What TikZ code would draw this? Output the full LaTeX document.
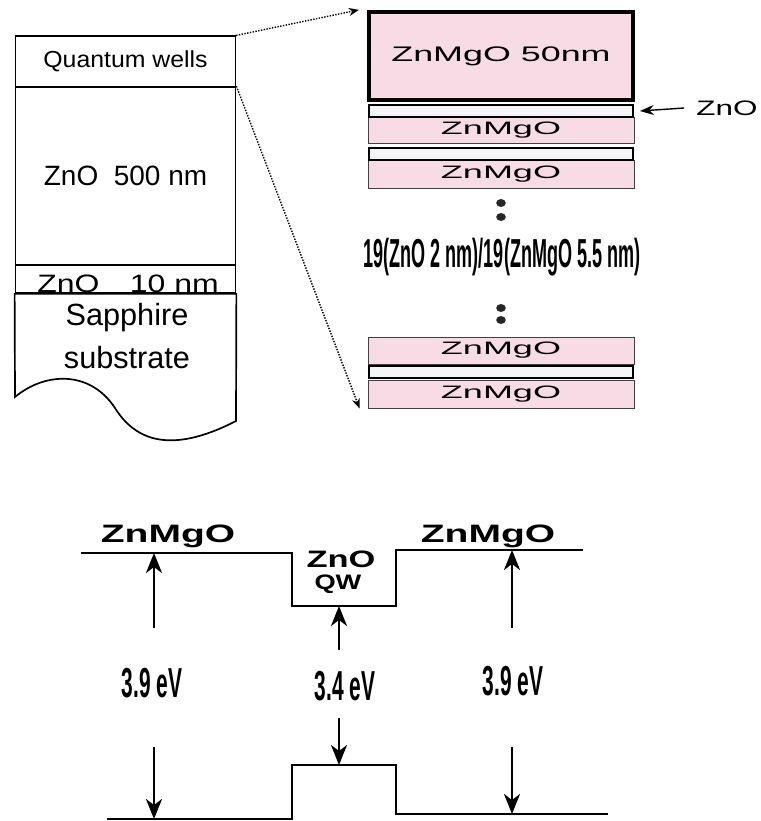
\documentclass[tikz,border=0pt]{standalone}
\usepackage{fontspec}
\setmainfont{Liberation Sans}
\usetikzlibrary{positioning, arrows.meta}

\definecolor{zmopink}{HTML}{F8DCE5}
\definecolor{qwwhite}{HTML}{F5F5F7}
\newcommand{\wide}[2]{\scalebox{#1}[1]{#2}}

\begin{document}
\begin{tikzpicture}[x=0.025cm, y=-0.025cm, inner sep=0pt,
    film/.style={draw, line width=1.2pt, minimum width=5.5cm},
    barrier/.style={draw=black!75, fill=zmopink, line width=0.6pt, minimum width=6.65cm},
    well/.style={draw, fill=qwwhite, line width=1.8pt, minimum width=6.6cm, minimum height=0.3cm},
    zoomto/.style={densely dotted, line width=1pt, -{Stealth[length=2.5mm, width=2mm]}},
    gap/.style={line width=1.8pt, -{Stealth[length=5mm, width=4mm, inset=1.5mm]}},
    band/.style={line width=1.4pt}]
  \useasboundingbox (0,0) rectangle (761,821);

  % sample
  \node[film, line width=0.8pt, minimum height=1.275cm] (qw) at (125.5,61.5)
    {\fontsize{16.5}{17}\selectfont\wide{1.07}{Quantum wells}};
  \node[film, minimum height=4.45cm] (buffer) at (125.5,176)
    {\fontsize{19.9}{20}\selectfont ZnO\ \ 500 nm};
  \node[film, minimum height=0.7cm] (seed) at (125.5,279) {};
  \node[anchor=base] (seed-lbl) at (128,292)
    {\fontsize{17.9}{18}\selectfont\wide{1.27}{ZnO\hspace{0.95em}10 nm}};
  \draw[line width=1.2pt] (seed.south east) -- (seed.south west) -- (15,397)
    .. controls (45,372) and (90,370) .. (115,408)
    .. controls (135,440) and (170,455) .. (236,421) -- cycle;
  \node[align=center, font=\fontsize{21.8}{30.6}\selectfont] (sub-lbl) at (127,336)
    {Sapphire\\substrate};

  % multiple quantum wells
  \node[barrier, draw=black, line width=3pt, minimum width=6.6cm, minimum height=2.2cm] (cap) at (501,56)
    {\fontsize{15}{15}\selectfont\wide{1.7}{ZnMgO 50nm}};
  \node[barrier, minimum height=0.65cm] (b1) at (501,130)
    {\fontsize{12.8}{13}\selectfont\wide{2}{ZnMgO}};
  \node[barrier, minimum height=0.7cm] (b2) at (501,174)
    {\fontsize{12.8}{13}\selectfont\wide{2}{ZnMgO}};
  \node[barrier, minimum height=0.675cm] (b3) at (501,350.5)
    {\fontsize{12.8}{13}\selectfont\wide{2}{ZnMgO}};
  \node[barrier, minimum height=0.7cm] (b4) at (501,394)
    {\fontsize{12.8}{13}\selectfont\wide{2}{ZnMgO}};
  \node[well, line width=1.2pt] (w1) at (501,111) {};
  \node[well] (w2) at (501,154) {};
  \node[well] (w3) at (501,372) {};
  \foreach \y in {203,217,308,320}
    \fill[black!85] (501,\y) ellipse [x radius=0.12cm, y radius=0.1cm];
  \node[anchor=base] (period) at (502,267)
    {\fontsize{28.8}{29}\selectfont\bfseries\wide{0.445}{19(ZnO 2 nm)/19(ZnMgO 5.5 nm)}};
  \node (w1-lbl) at (727,108) {\fontsize{14.9}{15}\selectfont\wide{1.5}{ZnO}};
  \draw[line width=1pt, -{Stealth[length=3.5mm, width=2.5mm]}] ([xshift=-0.3cm]w1-lbl.west) -- ([xshift=0.15cm]w1.east);

  \draw[zoomto] (qw.north east) -- ([xshift=-0.2cm]cap.north west);
  \draw[zoomto] (buffer.north east) -- ([xshift=-0.2cm]b4.south west);

  % band diagram
  \coordinate (cb0) at (81,553);
  \coordinate (cb1) at (292,553);
  \coordinate (cb2) at (292,606);
  \coordinate (cb3) at (396,606);
  \coordinate (cb4) at (396,550);
  \coordinate (cb5) at (583,550);
  \coordinate (vb0) at (107,819);
  \coordinate (vb1) at (292,819);
  \coordinate (vb2) at (292,765);
  \coordinate (vb3) at (396,765);
  \coordinate (vb4) at (396,814);
  \coordinate (vb5) at (608,814);
  \draw[band] (cb0) -- (cb1) -- (cb2) -- (cb3) -- (cb4) -- (cb5);
  \draw[band] (vb0) -- (vb1) -- (vb2) -- (vb3) -- (vb4) -- (vb5);

  \node[anchor=base] (zmo-l) at (168,542) {\fontsize{17.9}{18}\selectfont\bfseries\wide{1.55}{ZnMgO}};
  \node[anchor=base] (zmo-r) at (488,542) {\fontsize{17.9}{18}\selectfont\bfseries\wide{1.55}{ZnMgO}};
  \node[anchor=base] (zno-w) at (341,567) {\fontsize{16.9}{17}\selectfont\bfseries\wide{1.45}{ZnO}};
  \node[anchor=base] (qw-w) at (338,589) {\fontsize{14.9}{15}\selectfont\bfseries\wide{1.3}{QW}};

  \node[anchor=base] (gap-l) at (152,697) {\fontsize{29.8}{30}\selectfont\bfseries\wide{0.5}{3.9 eV}};
  \node[anchor=base] (gap-m) at (345,700) {\fontsize{29.8}{30}\selectfont\bfseries\wide{0.5}{3.4 eV}};
  \node[anchor=base] (gap-r) at (513,695) {\fontsize{29.8}{30}\selectfont\bfseries\wide{0.5}{3.9 eV}};

  \coordinate (lu) at (154,628);
  \coordinate (ld) at (154,747);
  \coordinate (mu) at (339,650);
  \coordinate (md) at (339,718);
  \coordinate (ru) at (512,628);
  \coordinate (rd) at (512,747);
  \draw[gap] (lu) -- (lu |- cb0);
  \draw[gap] (ld) -- (ld |- vb0);
  \draw[gap] (mu) -- (mu |- cb2);
  \draw[gap] (md) -- (md |- vb2);
  \draw[gap] (ru) -- (ru |- cb4);
  \draw[gap] (rd) -- (rd |- vb4);
\end{tikzpicture}
\end{document}
